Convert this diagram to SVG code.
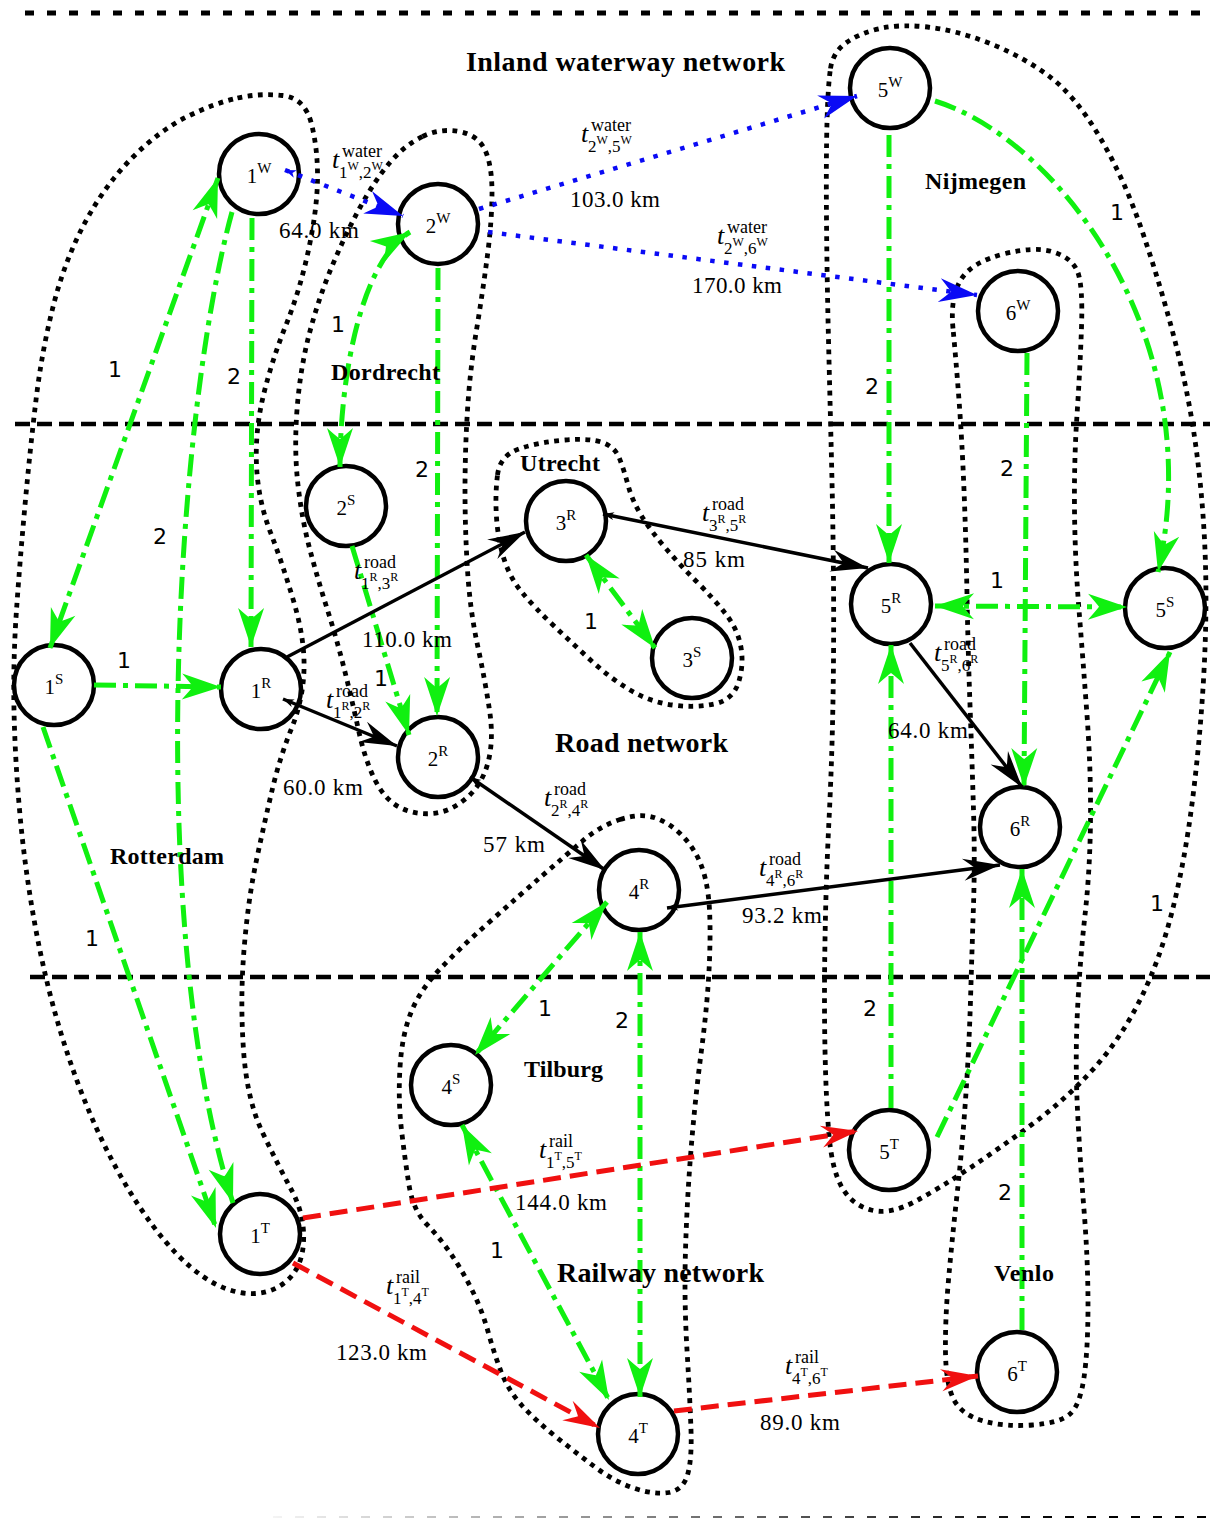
<svg xmlns="http://www.w3.org/2000/svg" width="1210" height="1519" viewBox="0 0 1210 1519">
<style>
.cl{fill:none;stroke:#000;stroke-width:4.8;stroke-dasharray:4.8 5.5}
.hl{stroke:#000;stroke-width:4.5;stroke-dasharray:15 7}
.nd circle{fill:#fff;stroke:#000;stroke-width:4.5}
.nl{font-family:"Liberation Serif",serif;font-size:21px;text-anchor:middle;fill:#000}
.ns{font-size:15px}
.g{fill:none;stroke:#10f010;stroke-width:5;stroke-dasharray:22 7 5 7}
.k{fill:none;stroke:#000;stroke-width:3.5}
.b{fill:none;stroke:#0a0af5;stroke-width:4.5;stroke-dasharray:4.5 9.5}
.r{fill:none;stroke:#f01010;stroke-width:5;stroke-dasharray:18 9}
.tl{font-family:"Liberation Serif",serif;fill:#000}
.ti{font-style:italic;font-size:26px}
.sp{font-size:18px}
.sb{font-size:17px}
.ss{font-size:12px}
.km{font-family:"Liberation Serif",serif;font-size:23px;fill:#000}
.num{font-family:"DejaVu Sans",sans-serif;font-size:22px;fill:#000;text-anchor:middle}
.ttl{font-family:"Liberation Serif",serif;font-weight:bold;font-size:28px;fill:#000}
.city{font-family:"Liberation Serif",serif;font-weight:bold;font-size:24px;fill:#000}
</style>
<defs>
<marker id="ag" markerUnits="userSpaceOnUse" viewBox="-42 -16 44 32" markerWidth="44" markerHeight="32" refX="0" refY="0" orient="auto-start-reverse"><path d="M0,0 L-39,-13 Q-31,-4 -28,0 Q-31,4 -39,13 Z" fill="#10f010"/></marker>
<marker id="ak" markerUnits="userSpaceOnUse" viewBox="-42 -16 44 32" markerWidth="44" markerHeight="32" refX="0" refY="0" orient="auto"><path d="M0,0 L-37,-11 Q-28,-3 -25,0 Q-28,3 -37,11 Z" fill="#000"/></marker>
<marker id="ab" markerUnits="userSpaceOnUse" viewBox="-42 -16 44 32" markerWidth="44" markerHeight="32" refX="0" refY="0" orient="auto"><path d="M0,0 L-38,-12 Q-29,-3 -26,0 Q-29,3 -38,12 Z" fill="#0a0af5"/></marker>
<marker id="ar" markerUnits="userSpaceOnUse" viewBox="-42 -16 44 32" markerWidth="44" markerHeight="32" refX="0" refY="0" orient="auto"><path d="M0,0 L-37,-11 Q-28,-3 -25,0 Q-28,3 -37,11 Z" fill="#f01010"/></marker>
<marker id="tk" markerUnits="userSpaceOnUse" viewBox="-2 -6 16 12" markerWidth="16" markerHeight="12" refX="0" refY="0" orient="auto"><path d="M0,0 L11,-4 L8,0 L11,4 Z" fill="#000"/></marker>
<marker id="tb" markerUnits="userSpaceOnUse" viewBox="-2 -6 16 12" markerWidth="16" markerHeight="12" refX="0" refY="0" orient="auto"><path d="M0,0 L11,-4 L8,0 L11,4 Z" fill="#0a0af5"/></marker>
<linearGradient id="fade" gradientUnits="userSpaceOnUse" x1="273" y1="0" x2="1210" y2="0"><stop offset="0" stop-color="#f4f4f4"/><stop offset="0.85" stop-color="#000"/></linearGradient>
</defs>

<g id="layers">
<line class="hl" x1="25" y1="13" x2="1210" y2="13" style="stroke-dasharray:9 13;stroke-width:5"/>
<line class="hl" x1="15" y1="424" x2="1210" y2="424"/>
<line class="hl" x1="30" y1="977" x2="1210" y2="977"/>
<line x1="273" y1="1517" x2="1210" y2="1517" stroke="url(#fade)" stroke-width="2" stroke-dasharray="9 13"/>
</g>

<g id="clusters">
<path id="cl-rotterdam" class="cl" d="M237.5,98 Q260,93 282.5,95.5 Q305,98 311.5,124 Q318,150 317.5,180 Q317,210 308.5,250 Q300,290 286,325 Q272,360 263.5,395 Q255,430 256.5,465 Q258,500 270.5,532.5 Q283,565 294,602.5 Q305,640 304,670 Q303,700 291.5,728.5 Q280,757 272.5,788.5 Q265,820 256.5,860 Q248,900 244,950 Q240,1000 243.5,1050 Q247,1100 262.5,1132.5 Q278,1165 291.5,1190 Q305,1215 303.5,1242.5 Q302,1270 283.5,1283.5 Q265,1297 240,1292.5 Q215,1288 190,1266.5 Q165,1245 140,1207.5 Q115,1170 95,1125 Q75,1080 60,1030 Q45,980 35,925 Q25,870 20,815 Q15,760 14,710 Q13,660 16.5,610 Q20,560 25,505 Q30,450 36,400 Q42,350 53.5,305 Q65,260 85,222.5 Q105,185 132.5,157.5 Q160,130 187.5,116.5 Q215,103 237.5,98 Z"/>
<path id="cl-dordrecht" class="cl" d="M422.5,136.5 Q440,128 459,131.5 Q478,135 485,150 Q492,165 492,192.5 Q492,220 487.5,255 Q483,290 476.5,330 Q470,370 467.5,410 Q465,450 465,490 Q465,530 467.5,570 Q470,610 477.5,645 Q485,680 489.5,710 Q494,740 488,762.5 Q482,785 466,798.5 Q450,812 432.5,813.5 Q415,815 400,807.5 Q385,800 375,780 Q365,760 358.5,730 Q352,700 344.5,670 Q337,640 327.5,610 Q318,580 310,550 Q302,520 298,485 Q294,450 297,410 Q300,370 309,335 Q318,300 331.5,267.5 Q345,235 360,207.5 Q375,180 390,162.5 Q405,145 422.5,136.5 Z"/>
<path id="cl-utrecht" class="cl" d="M497.5,475 Q500,455 520,448.5 Q540,442 565,440 Q590,438 602.5,442.5 Q615,447 619.5,458.5 Q624,470 628,485 Q632,500 641,515 Q650,530 665,547.5 Q680,565 697.5,582.5 Q715,600 726.5,615 Q738,630 741,647.5 Q744,665 738.5,682.5 Q733,700 714,704 Q695,708 672.5,705 Q650,702 630,690 Q610,678 591,660.5 Q572,643 553.5,625.5 Q535,608 522.5,593 Q510,578 504,559 Q498,540 496.5,517.5 Q495,495 497.5,475 Z"/>
<path id="cl-nijmegen" class="cl" d="M830.5,68.5 Q833,52 846.5,42.5 Q860,33 880,28.5 Q900,24 927.5,27 Q955,30 987.5,42.5 Q1020,55 1047.5,75 Q1075,95 1100,137.5 Q1125,180 1143.5,235 Q1162,290 1176,345 Q1190,400 1197,455 Q1204,510 1205.5,565 Q1207,620 1203.5,680 Q1200,740 1192.5,800 Q1185,860 1172.5,910 Q1160,960 1140,1000 Q1120,1040 1092.5,1070 Q1065,1100 1032.5,1124 Q1000,1148 970,1168 Q940,1188 915,1201.5 Q890,1215 871,1210 Q852,1205 842,1187.5 Q832,1170 829,1135 Q826,1100 825,1050 Q824,1000 825,940 Q826,880 829,820 Q832,760 833,700 Q834,640 833.5,580 Q833,520 831.5,460 Q830,400 828.5,340 Q827,280 826.5,220 Q826,160 827,122.5 Q828,85 830.5,68.5 Z"/>
<path id="cl-venlo" class="cl" d="M953,328.5 Q950,297 961,279.5 Q972,262 1003.5,254 Q1035,246 1053.5,252 Q1072,258 1077.5,271.5 Q1083,285 1081.5,327.5 Q1080,370 1077,415 Q1074,460 1074.5,510 Q1075,560 1079,610 Q1083,660 1087,715 Q1091,770 1090.5,820 Q1090,870 1085,915 Q1080,960 1077.5,1010 Q1075,1060 1077.5,1110 Q1080,1160 1084,1210 Q1088,1260 1088,1305 Q1088,1350 1084,1377.5 Q1080,1405 1070,1414 Q1060,1423 1032.5,1425 Q1005,1427 983.5,1421 Q962,1415 954,1400 Q946,1385 945.5,1352.5 Q945,1320 948.5,1280 Q952,1240 957,1195 Q962,1150 965.5,1100 Q969,1050 970.5,1000 Q972,950 973.5,905 Q975,860 973.5,810 Q972,760 970,705 Q968,650 967,595 Q966,540 964,490 Q962,440 959,400 Q956,360 953,328.5 Z"/>
<path id="cl-tilburg" class="cl" d="M620,819.5 Q640,813 654,817.5 Q668,822 680,833.5 Q692,845 699,860 Q706,875 708.5,897.5 Q711,920 709.5,960 Q708,1000 701.5,1050 Q695,1100 691,1150 Q687,1200 685.5,1250 Q684,1300 687,1350 Q690,1400 691,1430 Q692,1460 687.5,1475 Q683,1490 669,1492.5 Q655,1495 635,1488.5 Q615,1482 595,1467 Q575,1452 555,1436 Q535,1420 521.5,1405 Q508,1390 501,1371.5 Q494,1353 488,1331.5 Q482,1310 472,1290 Q462,1270 451,1254 Q440,1238 426.5,1224 Q413,1210 409,1185 Q405,1160 401.5,1130 Q398,1100 400,1067.5 Q402,1035 411,1012.5 Q420,990 440,969 Q460,948 490,921.5 Q520,895 542.5,875.5 Q565,856 582.5,841 Q600,826 620,819.5 Z"/>
</g>

<g id="nodes">
<g id="n1W" class="nd"><circle cx="259" cy="174" r="40"/><text class="nl" x="259" y="183">1<tspan class="ns" dy="-10">W</tspan></text></g>
<g id="n2W" class="nd"><circle cx="438" cy="224" r="40"/><text class="nl" x="438" y="233">2<tspan class="ns" dy="-10">W</tspan></text></g>
<g id="n5W" class="nd"><circle cx="890" cy="88" r="40"/><text class="nl" x="890" y="97">5<tspan class="ns" dy="-10">W</tspan></text></g>
<g id="n6W" class="nd"><circle cx="1018" cy="311" r="40"/><text class="nl" x="1018" y="320">6<tspan class="ns" dy="-10">W</tspan></text></g>
<g id="n2S" class="nd"><circle cx="346" cy="506" r="40"/><text class="nl" x="346" y="515">2<tspan class="ns" dy="-10">S</tspan></text></g>
<g id="n3R" class="nd"><circle cx="566" cy="521" r="40"/><text class="nl" x="566" y="530">3<tspan class="ns" dy="-10">R</tspan></text></g>
<g id="n3S" class="nd"><circle cx="692" cy="658" r="40"/><text class="nl" x="692" y="667">3<tspan class="ns" dy="-10">S</tspan></text></g>
<g id="n5R" class="nd"><circle cx="891" cy="604" r="40"/><text class="nl" x="891" y="613">5<tspan class="ns" dy="-10">R</tspan></text></g>
<g id="n5S" class="nd"><circle cx="1165" cy="608" r="40"/><text class="nl" x="1165" y="617">5<tspan class="ns" dy="-10">S</tspan></text></g>
<g id="n1S" class="nd"><circle cx="54" cy="685" r="40"/><text class="nl" x="54" y="694">1<tspan class="ns" dy="-10">S</tspan></text></g>
<g id="n1R" class="nd"><circle cx="261" cy="689" r="40"/><text class="nl" x="261" y="698">1<tspan class="ns" dy="-10">R</tspan></text></g>
<g id="n2R" class="nd"><circle cx="438" cy="757" r="40"/><text class="nl" x="438" y="766">2<tspan class="ns" dy="-10">R</tspan></text></g>
<g id="n6R" class="nd"><circle cx="1020" cy="827" r="40"/><text class="nl" x="1020" y="836">6<tspan class="ns" dy="-10">R</tspan></text></g>
<g id="n4R" class="nd"><circle cx="639" cy="890" r="40"/><text class="nl" x="639" y="899">4<tspan class="ns" dy="-10">R</tspan></text></g>
<g id="n4S" class="nd"><circle cx="451" cy="1085" r="40"/><text class="nl" x="451" y="1094">4<tspan class="ns" dy="-10">S</tspan></text></g>
<g id="n5T" class="nd"><circle cx="889" cy="1150" r="40"/><text class="nl" x="889" y="1159">5<tspan class="ns" dy="-10">T</tspan></text></g>
<g id="n1T" class="nd"><circle cx="260" cy="1234" r="40"/><text class="nl" x="260" y="1243">1<tspan class="ns" dy="-10">T</tspan></text></g>
<g id="n6T" class="nd"><circle cx="1017" cy="1372" r="40"/><text class="nl" x="1017" y="1381">6<tspan class="ns" dy="-10">T</tspan></text></g>
<g id="n4T" class="nd"><circle cx="638" cy="1434" r="40"/><text class="nl" x="638" y="1443">4<tspan class="ns" dy="-10">T</tspan></text></g>
</g>

<g id="connectors">
<g id="transfer">
<path class="g" d="M218,178 L50,648" marker-start="url(#ag)" marker-end="url(#ag)"/>
<path class="g" d="M252,218 L251,647" marker-end="url(#ag)"/>
<path class="g" d="M232,212 C175,420 145,930 233,1203" marker-end="url(#ag)"/>
<path class="g" d="M94,685 L221,687" marker-end="url(#ag)"/>
<path class="g" d="M43,727 L216,1228" marker-end="url(#ag)"/>
<path class="g" d="M340,467 C340,380 360,262 410,232" marker-start="url(#ag)" marker-end="url(#ag)"/>
<path class="g" d="M438,268 L437,716" marker-end="url(#ag)"/>
<path class="g" d="M352,546 L409,735" marker-end="url(#ag)"/>
<path class="g" d="M586,555 L655,648" marker-start="url(#ag)" marker-end="url(#ag)"/>
<path class="g" d="M889,135 L889,563" marker-end="url(#ag)"/>
<path class="g" d="M935,101 C1060,140 1210,340 1158,572" marker-end="url(#ag)"/>
<path class="g" d="M1027,353 L1024,787" marker-end="url(#ag)"/>
<path class="g" d="M935,606 L1127,607" marker-start="url(#ag)" marker-end="url(#ag)"/>
<path class="g" d="M891,1108 L891,645" marker-end="url(#ag)"/>
<path class="g" d="M937,1137 L1170,652" marker-end="url(#ag)"/>
<path class="g" d="M1022,1330 L1022,869" marker-end="url(#ag)"/>
<path class="g" d="M607,902 L475,1055" marker-start="url(#ag)" marker-end="url(#ag)"/>
<path class="g" d="M640,932 L640,1397" marker-start="url(#ag)" marker-end="url(#ag)"/>
<path class="g" d="M462,1125 L609,1400" marker-start="url(#ag)" marker-end="url(#ag)"/>
</g>
<g id="water">
<path class="b" d="M285,170 L403,216" marker-start="url(#tb)" marker-end="url(#ab)"/>
<path class="b" d="M479,209 L857,96" marker-end="url(#ab)"/>
<path class="b" d="M488,232 L977,295" marker-end="url(#ab)"/>
</g>
<g id="road">
<path class="k" d="M287,657 L525,532" marker-end="url(#ak)"/>
<path class="k" d="M283,699 L397,746" marker-start="url(#tk)" marker-end="url(#ak)"/>
<path class="k" d="M603,514 L868,568" marker-start="url(#tk)" marker-end="url(#ak)"/>
<path class="k" d="M470,777 L605,870" marker-start="url(#tk)" marker-end="url(#ak)"/>
<path class="k" d="M667,908 L1000,865" marker-start="url(#tk)" marker-end="url(#ak)"/>
<path class="k" d="M910,643 L1022,787" marker-end="url(#ak)"/>
</g>
<g id="rail">
<path class="r" d="M303,1218 L858,1131" marker-end="url(#ar)"/>
<path class="r" d="M293,1263 L600,1428" marker-end="url(#ar)"/>
<path class="r" d="M674,1411 L978,1376" marker-end="url(#ar)"/>
</g>
</g>

<g id="edge-labels">
<text class="tl"><tspan class="ti" x="332" y="168">t</tspan><tspan class="sp" x="342" y="157">water</tspan><tspan class="sb" x="339" y="178">1</tspan><tspan class="ss" dy="-8">W</tspan><tspan class="sb" dy="8">,2</tspan><tspan class="ss" dy="-8">W</tspan></text>
<text class="tl"><tspan class="ti" x="581" y="142">t</tspan><tspan class="sp" x="591" y="131">water</tspan><tspan class="sb" x="588" y="152">2</tspan><tspan class="ss" dy="-8">W</tspan><tspan class="sb" dy="8">,5</tspan><tspan class="ss" dy="-8">W</tspan></text>
<text class="tl"><tspan class="ti" x="717" y="244">t</tspan><tspan class="sp" x="727" y="233">water</tspan><tspan class="sb" x="724" y="254">2</tspan><tspan class="ss" dy="-8">W</tspan><tspan class="sb" dy="8">,6</tspan><tspan class="ss" dy="-8">W</tspan></text>
<text class="tl"><tspan class="ti" x="354" y="579">t</tspan><tspan class="sp" x="364" y="568">road</tspan><tspan class="sb" x="361" y="589">1</tspan><tspan class="ss" dy="-8">R</tspan><tspan class="sb" dy="8">,3</tspan><tspan class="ss" dy="-8">R</tspan></text>
<text class="tl"><tspan class="ti" x="326" y="708">t</tspan><tspan class="sp" x="336" y="697">road</tspan><tspan class="sb" x="333" y="718">1</tspan><tspan class="ss" dy="-8">R</tspan><tspan class="sb" dy="8">,2</tspan><tspan class="ss" dy="-8">R</tspan></text>
<text class="tl"><tspan class="ti" x="702" y="521">t</tspan><tspan class="sp" x="712" y="510">road</tspan><tspan class="sb" x="709" y="531">3</tspan><tspan class="ss" dy="-8">R</tspan><tspan class="sb" dy="8">,5</tspan><tspan class="ss" dy="-8">R</tspan></text>
<text class="tl"><tspan class="ti" x="544" y="806">t</tspan><tspan class="sp" x="554" y="795">road</tspan><tspan class="sb" x="551" y="816">2</tspan><tspan class="ss" dy="-8">R</tspan><tspan class="sb" dy="8">,4</tspan><tspan class="ss" dy="-8">R</tspan></text>
<text class="tl"><tspan class="ti" x="759" y="876">t</tspan><tspan class="sp" x="769" y="865">road</tspan><tspan class="sb" x="766" y="886">4</tspan><tspan class="ss" dy="-8">R</tspan><tspan class="sb" dy="8">,6</tspan><tspan class="ss" dy="-8">R</tspan></text>
<text class="tl"><tspan class="ti" x="934" y="661">t</tspan><tspan class="sp" x="944" y="650">road</tspan><tspan class="sb" x="941" y="671">5</tspan><tspan class="ss" dy="-8">R</tspan><tspan class="sb" dy="8">,6</tspan><tspan class="ss" dy="-8">R</tspan></text>
<text class="tl"><tspan class="ti" x="539" y="1158">t</tspan><tspan class="sp" x="549" y="1147">rail</tspan><tspan class="sb" x="546" y="1168">1</tspan><tspan class="ss" dy="-8">T</tspan><tspan class="sb" dy="8">,5</tspan><tspan class="ss" dy="-8">T</tspan></text>
<text class="tl"><tspan class="ti" x="386" y="1294">t</tspan><tspan class="sp" x="396" y="1283">rail</tspan><tspan class="sb" x="393" y="1304">1</tspan><tspan class="ss" dy="-8">T</tspan><tspan class="sb" dy="8">,4</tspan><tspan class="ss" dy="-8">T</tspan></text>
<text class="tl"><tspan class="ti" x="785" y="1374">t</tspan><tspan class="sp" x="795" y="1363">rail</tspan><tspan class="sb" x="792" y="1384">4</tspan><tspan class="ss" dy="-8">T</tspan><tspan class="sb" dy="8">,6</tspan><tspan class="ss" dy="-8">T</tspan></text>

<text class="km" x="279" y="238" textLength="80">64.0 km</text>
<text class="km" x="570" y="207" textLength="90">103.0 km</text>
<text class="km" x="692" y="293" textLength="90">170.0 km</text>
<text class="km" x="362" y="647" textLength="90">110.0 km</text>
<text class="km" x="283" y="795" textLength="80">60.0 km</text>
<text class="km" x="483" y="852" textLength="62">57 km</text>
<text class="km" x="683" y="567" textLength="62">85 km</text>
<text class="km" x="888" y="738" textLength="80">64.0 km</text>
<text class="km" x="742" y="923" textLength="80">93.2 km</text>
<text class="km" x="515" y="1210" textLength="92">144.0 km</text>
<text class="km" x="336" y="1360" textLength="91">123.0 km</text>
<text class="km" x="760" y="1430" textLength="80">89.0 km</text>

<text class="num" x="115" y="377">1</text>
<text class="num" x="234" y="384">2</text>
<text class="num" x="160" y="544">2</text>
<text class="num" x="124" y="668">1</text>
<text class="num" x="92" y="946">1</text>
<text class="num" x="338" y="332">1</text>
<text class="num" x="422" y="477">2</text>
<text class="num" x="381" y="686">1</text>
<text class="num" x="591" y="629">1</text>
<text class="num" x="872" y="394">2</text>
<text class="num" x="1117" y="220">1</text>
<text class="num" x="1007" y="476">2</text>
<text class="num" x="997" y="588">1</text>
<text class="num" x="870" y="1016">2</text>
<text class="num" x="1157" y="911">1</text>
<text class="num" x="1005" y="1200">2</text>
<text class="num" x="545" y="1016">1</text>
<text class="num" x="622" y="1028">2</text>
<text class="num" x="497" y="1258">1</text>
</g>

<g id="titles">
<text class="ttl" x="466" y="71" textLength="319">Inland waterway network</text>
<text class="ttl" x="555" y="752" textLength="173">Road network</text>
<text class="ttl" x="557" y="1282" textLength="207">Railway network</text>
<text class="city" x="925" y="189" textLength="101">Nijmegen</text>
<text class="city" x="331" y="380" textLength="109">Dordrecht</text>
<text class="city" x="520" y="471" textLength="80">Utrecht</text>
<text class="city" x="110" y="864" textLength="114">Rotterdam</text>
<text class="city" x="524" y="1077" textLength="79">Tilburg</text>
<text class="city" x="994" y="1281" textLength="60">Venlo</text>
</g>
</svg>
